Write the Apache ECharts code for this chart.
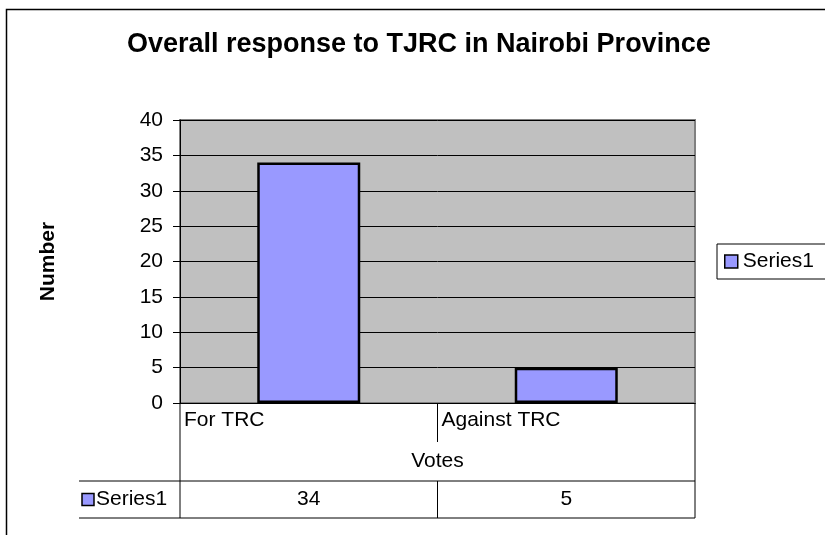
<!DOCTYPE html>
<html>
<head>
<meta charset="utf-8">
<script src="https://cdn.jsdelivr.net/npm/echarts@6/dist/echarts.min.js"></script>
<style>html,body{margin:0;padding:0;background:#fff}#c{width:825px;height:535px}</style>
</head>
<body>
<div id="c"></div>
<script>
const categories = ['For TRC', 'Against TRC'];
const seriesName = 'Series1';
const values = [34, 5];
const yTicks = { min: 0, max: 40, interval: 5 };
const titleText = 'Overall response to TJRC in Nairobi Province';
const yName = 'Number';
const xName = 'Votes';

const FONT = '"Liberation Sans", Arial, sans-serif';
const chart = echarts.init(document.getElementById('c'), null, { renderer: 'canvas' });

const option = {
  backgroundColor: '#fff',
  animation: false,
  title: {
    text: titleText, left: 122, top: 26,
    textStyle: { fontFamily: FONT, fontSize: 27, fontWeight: 'bold', color: '#000' }
  },
  legend: {
    show: true, orient: 'vertical', left: 717, top: 244,
    backgroundColor: '#fff', borderColor: '#000', borderWidth: 1,
    padding: [7, 30, 7, 7],
    itemWidth: 13, itemHeight: 13, icon: 'rect',
    itemStyle: { borderColor: '#000', borderWidth: 1.5 },
    textStyle: { fontFamily: FONT, fontSize: 21, color: '#000' }
  },
  grid: {
    left: 180, right: 130, top: 120, bottom: 132,
    show: true, backgroundColor: '#C0C0C0', borderColor: '#808080', borderWidth: 2
  },
  xAxis: [
    {
      type: 'category', data: categories, position: 'bottom',
      axisLine: { lineStyle: { color: '#000', width: 1 } },
      axisTick: { show: false }, axisLabel: { show: false }, splitLine: { show: false }
    },
    {
      type: 'category', data: categories.concat(['']), boundaryGap: false, position: 'bottom',
      axisLine: { show: false }, axisTick: { show: false }, splitLine: { show: false },
      axisLabel: { interval: 0, align: 'left', margin: 7, padding: [0, 0, 0, 4],
        fontFamily: FONT, fontSize: 21, color: '#000' },
      name: xName, nameLocation: 'middle', nameGap: 48,
      nameTextStyle: { fontFamily: FONT, fontSize: 21, color: '#000' }
    },
    {
      type: 'category', data: values.map(String), position: 'bottom', offset: 78,
      axisLine: { show: false }, axisTick: { show: false }, splitLine: { show: false },
      axisLabel: { interval: 0, margin: 8, fontFamily: FONT, fontSize: 21, color: '#000' }
    }
  ],
  yAxis: {
    type: 'value', min: yTicks.min, max: yTicks.max, interval: yTicks.interval,
    axisLine: { show: true, lineStyle: { color: '#000', width: 1 } },
    axisTick: { show: true, length: 7, lineStyle: { color: '#000' } },
    axisLabel: { margin: 17, fontFamily: FONT, fontSize: 21, color: '#000' },
    splitLine: { show: true, lineStyle: { color: '#000', width: 1 } },
    name: yName, nameLocation: 'middle', nameRotate: 90, nameGap: 121,
    nameTextStyle: { fontFamily: FONT, fontSize: 21, fontWeight: 'bold', color: '#000' }
  },
  series: [{
    name: seriesName, type: 'bar', xAxisIndex: 0, data: values, barWidth: '40%',
    itemStyle: { color: '#9999FF', borderColor: '#000', borderWidth: 2.5 }
  }]
};
chart.setOption(option);

// data table frame, positioned from the axes' own scales
const c0 = chart.convertToPixel({ xAxisIndex: 0 }, categories[0]);
const c1 = chart.convertToPixel({ xAxisIndex: 0 }, categories[1]);
const band = c1 - c0;
const xL = c0 - band / 2, xM = (c0 + c1) / 2, xR = c1 + band / 2;
const y0 = chart.convertToPixel({ yAxisIndex: 0 }, 0);
const yDiv = y0 + 39, yRow = y0 + 78, yBot = y0 + 115;
const headL = 79;
const ln = (x1, y1, x2, y2) => ({ type: 'line', shape: { x1, y1, x2, y2 }, style: { stroke: '#000', lineWidth: 1 }, z: 10 });
chart.setOption({
  graphic: [
    { type: 'rect', shape: { x: 6.5, y: 9.5, width: 900, height: 700 }, style: { fill: null, stroke: '#000', lineWidth: 1.5 }, z: 0, silent: true },
    ln(xL, y0, xL, yBot), ln(xR, y0, xR, yBot),
    ln(xM, y0, xM, yDiv), ln(xM, yRow, xM, yBot),
    ln(headL, yRow, xR, yRow), ln(headL, yBot, xR, yBot),
    { type: 'rect', shape: { x: headL + 3, y: (yRow + yBot) / 2 - 6, width: 12, height: 12 }, style: { fill: '#9999FF', stroke: '#000', lineWidth: 1.5 }, z: 10 },
    { type: 'text', x: headL + 17, y: (yRow + yBot) / 2, style: { text: seriesName, fontFamily: FONT, fontSize: 21, fill: '#000', verticalAlign: 'middle', align: 'left' }, z: 10 }
  ]
});
</script>
</body>
</html>
